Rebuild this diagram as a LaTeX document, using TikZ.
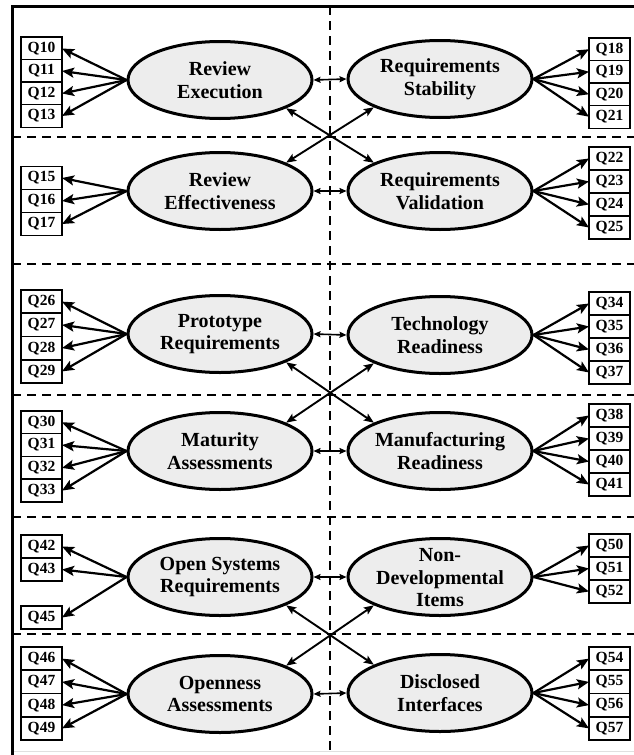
\documentclass[tikz,border=0pt]{standalone}
\usepackage{fontspec}
\setmainfont{Liberation Serif}
\usetikzlibrary{shapes.geometric,arrows.meta}

\tikzset{
  latent/.style={ellipse, draw=black, line width=3pt, fill=black!7,
    minimum width=184pt, minimum height=77pt, inner sep=0pt},
  lbl/.style={align=center, font=\fontsize{20}{22.5}\selectfont\bfseries, inner sep=0pt},
  qbox/.style={rectangle, draw=black, line width=1.5pt, fill=white,
    minimum width=41pt, minimum height=23pt, inner sep=0pt, outer sep=0pt,
    font=\fontsize{15.5}{17}\selectfont\bfseries},
  load/.style={line width=2.2pt, -{Stealth[length=12pt,width=10pt,inset=2.5pt]}},
  corr/.style={line width=1.6pt, {Stealth[length=7pt,width=6pt,inset=1pt]}-{Stealth[length=7pt,width=6pt,inset=1pt]}},
  cross/.style={line width=1.9pt, {Stealth[length=10pt,width=8pt,inset=2pt]}-{Stealth[length=10pt,width=8pt,inset=2pt]}},
  divider/.style={line width=1.8pt, dash pattern=on 9pt off 6pt},
  frame/.style={line width=3pt}
}

\newcommand\lefts[2]{% #1 = factor node, #2 = list of label/y
  \foreach \q/\yy in {#2}{
    \node[qbox] (\q) at (41.5,\yy) {\q};
    \draw[load] (#1.west) -- (\q.east);
  }}
\newcommand\rights[2]{%
  \foreach \q/\yy in {#2}{
    \node[qbox] (\q) at (609.5,\yy) {\q};
    \draw[load] (#1.east) -- (\q.west);
  }}

\begin{document}
\begin{tikzpicture}[x=1pt,y=-1pt]
  \useasboundingbox[fill=white] (0,0) rectangle (634,755);

  % section dividers
  \coordinate (vtop) at (330,6);
  \coordinate (vbot) at (330,755);
  \draw[divider] (vtop) -- (vbot);
  \foreach \yy in {137,264,395,517,634}{
    \coordinate (hl) at (12,\yy);
    \coordinate (hr) at (634,\yy);
    \draw[divider] (hl) -- (hr);
  }

  % outer frame
  \coordinate (fbl) at (12,755);
  \coordinate (ftl) at (12,6);
  \coordinate (ftr) at (634,6);
  \coordinate (fbr) at (634,751);
  \coordinate (fbm) at (12,751);
  \draw[black!12, line width=1pt] (fbm) -- (fbr);
  \draw[frame] (fbl) -- (ftl) -- (ftr);

  % latent factors
  \node[latent] (re)  at (220,80)  {};
  \node[latent] (ref) at (220,191) {};
  \node[latent] (rs)  at (440,79)  {};
  \node[latent] (rv)  at (440,191) {};
  \node[latent] (pr)  at (220,334) {};
  \node[latent] (ma)  at (220,451) {};
  \node[latent] (tr)  at (440,335) {};
  \node[latent] (mr)  at (440,451) {};
  \node[latent] (osr) at (220,577) {};
  \node[latent] (oa)  at (220,694) {};
  \node[latent] (ndi) at (440,577) {};
  \node[latent] (di)  at (440,693) {};

  \node[lbl] at (re)  {Review\\Execution};
  \node[lbl] at (ref) {Review\\Effectiveness};
  \node[lbl] at (rs)  {Requirements\\Stability};
  \node[lbl] at (rv)  {Requirements\\Validation};
  \node[lbl] at (pr)  {Prototype\\Requirements};
  \node[lbl] at (ma)  {Maturity\\Assessments};
  \node[lbl] at (tr)  {Technology\\Readiness};
  \node[lbl] at (mr)  {Manufacturing\\Readiness};
  \node[lbl] at (osr) {Open Systems\\Requirements};
  \node[lbl] at (oa)  {Openness\\Assessments};
  \node[lbl] at ([yshift=-1pt]ndi) {Non-\\Developmental\\Items};
  \node[lbl] at (di)  {Disclosed\\Interfaces};

  % indicators
  \lefts{re}{Q10/48.5,Q11/71,Q12/93.5,Q13/116}
  \lefts{ref}{Q15/178,Q16/201,Q17/224}
  \lefts{pr}{Q26/301.6,Q27/324.9,Q28/348.1,Q29/371.4}
  \lefts{ma}{Q30/422.4,Q31/445.1,Q32/467.9,Q33/490.6}
  \lefts{osr}{Q42/546.5,Q43/569.5,Q45/617.5}
  \lefts{oa}{Q46/658.6,Q47/681.9,Q48/705.1,Q49/728.4}

  \rights{rs}{Q18/49.25,Q19/71.75,Q20/94.25,Q21/116.75}
  \rights{rv}{Q22/158.5,Q23/181.5,Q24/204.5,Q25/227.5}
  \rights{tr}{Q34/303.5,Q35/326.5,Q36/349.5,Q37/372.5}
  \rights{mr}{Q38/415.5,Q39/438.5,Q40/461.5,Q41/484.5}
  \rights{ndi}{Q50/545.5,Q51/568.5,Q52/591.5}
  \rights{di}{Q54/658.6,Q55/681.9,Q56/705.1,Q57/728.4}

  % correlations between factors
  \foreach \a/\b in {re/rs,ref/rv,pr/tr,ma/mr,osr/ndi,oa/di}{
    \draw[corr] (\a.east) -- (\b.west);
  }
  \foreach \a/\b/\c/\d in {re/rv/ref/rs,pr/mr/ma/tr,osr/di/oa/ndi}{
    \draw[cross] (\a.south east) -- (\b.north west);
    \draw[cross] (\c.north east) -- (\d.south west);
  }
\end{tikzpicture}
\end{document}
